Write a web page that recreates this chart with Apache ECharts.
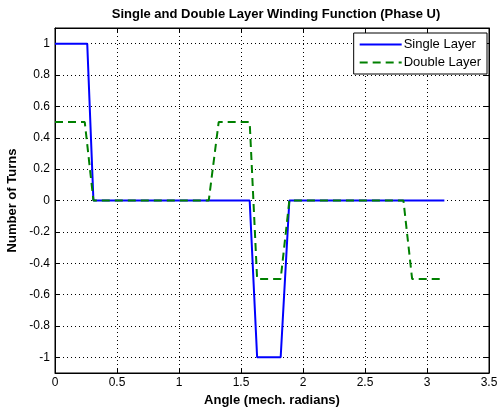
<!DOCTYPE html>
<html>
<head>
<meta charset="utf-8">
<script src="https://cdn.jsdelivr.net/npm/echarts@6/dist/echarts.min.js"></script>
<style>html,body{margin:0;padding:0;background:#fff;}#c{width:497px;height:411px;}</style>
</head>
<body>
<div id="c"></div>
<script>
var singleX = [0, 0.26, 0.31, 1.57, 1.63, 1.82, 1.89, 3.14];
var singleY = [1, 1, 0, 0, -1, -1, 0, 0];
var doubleX = [0, 0.24, 0.31, 1.24, 1.32, 1.57, 1.63, 1.82, 1.89, 2.81, 2.88, 3.14];
var doubleY = [0.5, 0.5, 0, 0, 0.5, 0.5, -0.5, -0.5, 0, 0, -0.5, -0.5];
var yTicks = [-1, -0.8, -0.6, -0.4, -0.2, 0, 0.2, 0.4, 0.6, 0.8, 1];
var seriesNames = ['Single Layer', 'Double Layer'];
var titleText = 'Single and Double Layer Winding Function (Phase U)';
var xName = 'Angle (mech. radians)';
var yName = 'Number of Turns';

function pairs(xs, ys) { return xs.map(function (x, i) { return [x, ys[i]]; }); }

var FONT = 'Liberation Sans, Arial, sans-serif';
var chart = echarts.init(document.getElementById('c'), null, {renderer: 'canvas'});
var dotted = {show: true, lineStyle: {color: '#000', type: [1, 3], width: 1}};
chart.setOption({
  animation: false,
  backgroundColor: '#fff',
  title: {text: titleText, left: 271, textAlign: 'center', top: 3,
    textStyle: {fontFamily: FONT, fontSize: 13, fontWeight: 'bold', color: '#000'}},
  grid: {left: 55, right: 8, top: 28, bottom: 38, containLabel: false, outerBoundsMode: 'none',
    show: true, borderColor: '#000', borderWidth: 1, backgroundColor: 'transparent'},
  legend: {
    data: seriesNames, orient: 'vertical', right: 10, top: 33,
    backgroundColor: '#fff', borderColor: '#000', borderWidth: 1,
    padding: [5, 6, 5, 5], itemGap: 5, itemWidth: 42, itemHeight: 13,
    itemStyle: {opacity: 0},
    textStyle: {fontFamily: FONT, fontSize: 13, color: '#000', padding: [0, 0, 0, -3]}
  },
  xAxis: [{
    type: 'value', min: 0, max: 3.5, interval: 0.5,
    name: xName, nameLocation: 'middle', nameGap: 19,
    nameTextStyle: {fontFamily: FONT, fontSize: 13, fontWeight: 'bold', color: '#000'},
    axisLine: {show: true, onZero: false, lineStyle: {color: '#000', width: 1}},
    axisTick: {show: true, inside: true, length: 5, lineStyle: {color: '#000'}},
    axisLabel: {fontFamily: FONT, fontSize: 12, color: '#000', margin: 4, formatter: function (v) { return String(v); }},
    splitLine: dotted
  }, {
    type: 'value', min: 0, max: 3.5, interval: 0.5, position: 'top',
    axisLine: {show: true, onZero: false, lineStyle: {color: '#000'}},
    axisTick: {show: true, inside: true, length: 5, lineStyle: {color: '#000'}},
    axisLabel: {show: false}, splitLine: {show: false}
  }],
  yAxis: [{
    type: 'value', min: -1.1, max: 1.1,
    name: yName, nameLocation: 'middle', nameGap: 34, nameRotate: 90,
    nameTextStyle: {fontFamily: FONT, fontSize: 13, fontWeight: 'bold', color: '#000'},
    axisLine: {show: true, onZero: false, lineStyle: {color: '#000', width: 1}},
    axisTick: {show: true, inside: true, length: 5, customValues: yTicks, lineStyle: {color: '#000'}},
    axisLabel: {fontFamily: FONT, fontSize: 12, color: '#000', margin: 5, customValues: yTicks, formatter: function (v) { return String(+v.toFixed(1)); }},
    splitLine: dotted
  }, {
    type: 'value', min: -1.1, max: 1.1, position: 'right',
    axisLine: {show: true, onZero: false, lineStyle: {color: '#000'}},
    axisTick: {show: true, inside: true, length: 5, customValues: yTicks, lineStyle: {color: '#000'}},
    axisLabel: {show: false, customValues: yTicks}, splitLine: {show: false}
  }],
  series: [{
    name: seriesNames[0], type: 'line', data: pairs(singleX, singleY), symbol: 'none',
    lineStyle: {color: '#0000ff', width: 2}, itemStyle: {color: '#0000ff'}
  }, {
    name: seriesNames[1], type: 'line', data: pairs(doubleX, doubleY), symbol: 'none',
    lineStyle: {color: '#008000', width: 2, type: [8, 5]}, itemStyle: {color: '#008000'}
  }]
});
</script>
</body>
</html>
